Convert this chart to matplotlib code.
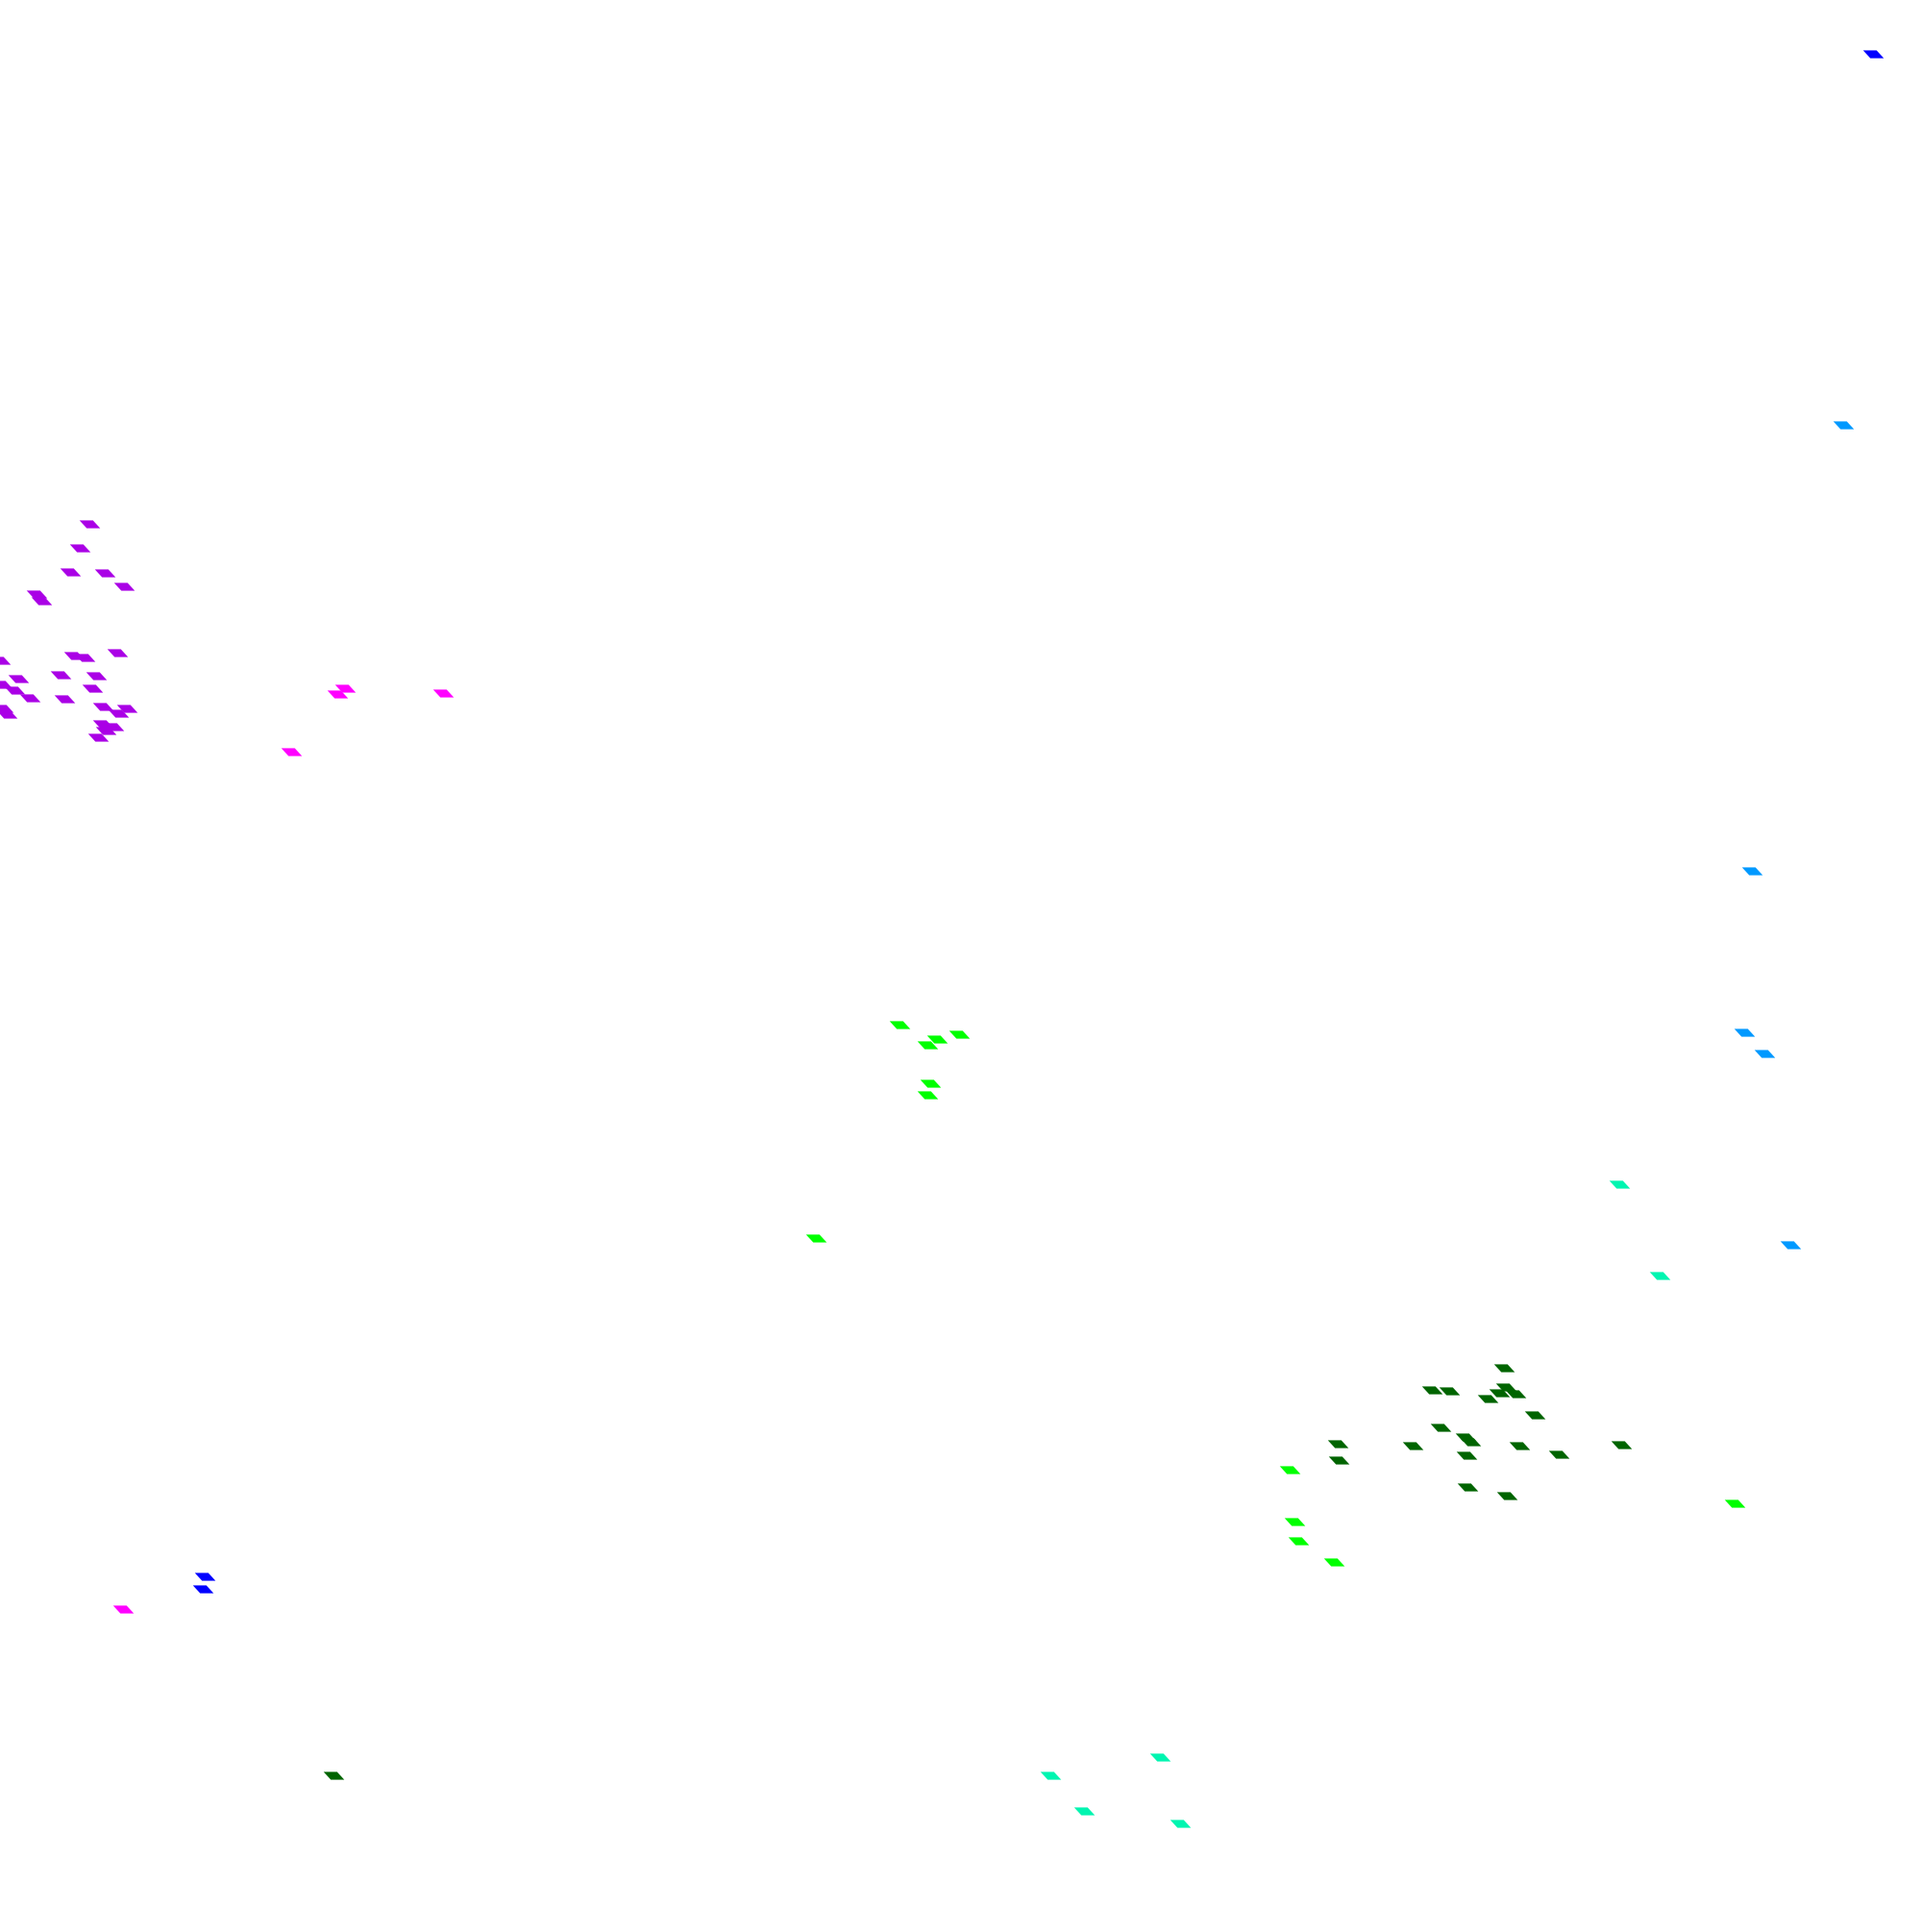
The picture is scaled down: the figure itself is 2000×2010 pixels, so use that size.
import matplotlib
matplotlib.use("Agg")
import matplotlib.pyplot as plt

# -------------------------------------------------------
# Data (x, y, y grows downward)
# -------------------------------------------------------
blue_x = [1949, 213, 211]
blue_y = [56, 1640, 1653]

skyblue_x = [1918, 1823, 1815, 1836, 1863]
skyblue_y = [442, 906, 1074, 1096, 1295]

aqua_x = [1685, 1727, 1093, 1207, 1128, 1228]
aqua_y = [1232, 1327, 1847, 1828, 1884, 1897]

lime_x = [936, 975, 965, 998, 968, 965, 849, 1342, 1347, 1351, 1388, 1805]
lime_y = [1066, 1081, 1087, 1076, 1127, 1139, 1288, 1529, 1583, 1603, 1625, 1564]

dkgreen_x = [1565, 1490, 1508, 1567, 1560, 1577, 1548, 1597, 1499, 1525, 1530,
             1470, 1526, 1581, 1622, 1687, 1527, 1568, 1392, 1393, 347]
dkgreen_y = [1423, 1446, 1447, 1443, 1449, 1450, 1455, 1472, 1485, 1495, 1500,
             1504, 1514, 1504, 1513, 1503, 1547, 1556, 1502, 1519, 1847]

purple_x = [93, 83, 73, 109, 129, 38, 43, 0, 77, 88, 122, 19, 63, 100, 2, 15,
            31, 67, 96, 107, 132, 123, 3, 7, 107, 118, 110, 102]
purple_y = [545, 570, 595, 596, 610, 618, 625, 687, 682, 684, 679, 706, 702, 703,
            712, 718, 726, 727, 716, 735, 737, 742, 737, 743, 753, 756, 760, 767]

magenta_x = [359, 351, 461, 303, 128]
magenta_y = [716, 722, 721, 782, 1674]

series = [
    (purple_x, purple_y, "#AA00E6"),
    (magenta_x, magenta_y, "#FF00FF"),
    (blue_x, blue_y, "#0000FF"),
    (skyblue_x, skyblue_y, "#0099FF"),
    (aqua_x, aqua_y, "#00F5B0"),
    (lime_x, lime_y, "#00FF00"),
    (dkgreen_x, dkgreen_y, "#006400"),
]

# slanted parallelogram marker
para = [(-1, 0.38), (0.3, 0.38), (1, -0.38), (-0.3, -0.38), (-1, 0.38)]

fig = plt.figure(figsize=(20, 20.1), dpi=100)
ax = fig.add_axes([0, 0, 1, 1])
for xs, ys, col in series:
    ax.scatter(xs, ys, marker=para, s=15.5 ** 2, color=col, linewidths=0)

ax.set_xlim(0, 2000)
ax.set_ylim(2010, 0)
ax.axis("off")

fig.savefig("out.png", dpi=100)
